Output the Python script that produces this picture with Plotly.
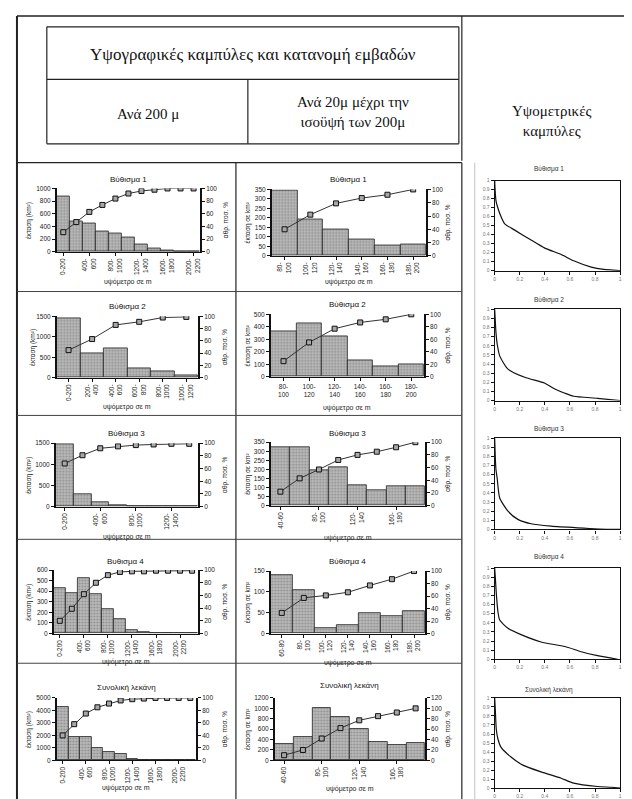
import plotly.graph_objects as go

W, H = 632, 799

# ---------------- DATA ----------------
# Left column: per 200 m
L1_cats = ["0-200", "200-400", "400-600", "600-800", "800-1000", "1000-1200", "1200-1400",
           "1400-1600", "1600-1800", "1800-2000", "2000-2200"]
L1_area = [880, 480, 450, 330, 290, 230, 120, 60, 30, 4, 4]
L1_cum = [31, 47, 63, 74, 84, 92, 96, 98, 100, 100, 100]

L2_cats = ["0-200", "200-400", "400-600", "600-800", "800-1000", "1000-1200"]
L2_area = [1450, 600, 720, 230, 150, 70]
L2_cum = [45, 63, 86, 91, 98, 99]

L3_cats = ["0-200", "200-400", "400-600", "600-800", "800-1000", "1000-1200", "1200-1400", "1400-1600"]
L3_area = [1480, 300, 110, 40, 15, 8, 5, 5]
L3_cum = [68, 81, 92, 95, 97, 98, 99, 99]

L4_cats = ["0-200", "200-400", "400-600", "600-800", "800-1000", "1000-1200", "1200-1400",
           "1400-1600", "1600-1800", "1800-2000", "2000-2200", "2200-2400"]
L4_area = [430, 380, 520, 370, 230, 140, 30, 12, 3, 2, 2, 2]
L4_cum = [20, 39, 62, 80, 92, 97, 98, 98, 99, 99, 99, 99]

L5_cats = ["0-200", "200-400", "400-600", "600-800", "800-1000", "1000-1200", "1200-1400",
           "1400-1600", "1600-1800", "1800-2000", "2000-2200", "2200-2400"]
L5_area = [4250, 1850, 1850, 1000, 700, 480, 150, 50, 20, 10, 10, 10]
L5_cum = [40, 58, 75, 85, 91, 96, 98, 99, 100, 100, 100, 100]

# Middle column: per 20 m up to 200 m
M1_cats = ["80-100", "100-120", "120-140", "140-160", "160-180", "180-200"]
M1_area = [345, 190, 140, 85, 55, 60]
M1_cum = [40, 62, 79, 87, 92, 100]

M2_cats = ["80-100", "100-120", "120-140", "140-160", "160-180", "180-200"]
M2_area = [360, 430, 320, 135, 80, 100]
M2_cum = [25, 55, 77, 87, 92, 100]

M3_cats = ["40-60", "60-80", "80-100", "100-120", "120-140", "140-160", "160-180", "180-200"]
M3_area = [320, 325, 195, 210, 115, 85, 105, 110]
M3_cum = [22, 43, 57, 72, 80, 85, 92, 100]

M4_cats = ["60-80", "80-100", "100-120", "120-140", "140-160", "160-180", "180-200"]
M4_area = [140, 105, 12, 20, 48, 42, 53]
M4_cum = [33, 57, 61, 66, 77, 87, 100]

M5_cats = ["40-60", "60-80", "80-100", "100-120", "120-140", "140-160", "160-180", "180-200"]
M5_area = [320, 460, 1010, 830, 600, 350, 290, 330]
M5_cum = [10, 20, 42, 62, 77, 85, 92, 100]

# Right column: hypsometric curves (relative area, relative height)
H1_x = [0, 0.004, 0.01, 0.02, 0.05, 0.08, 0.16, 0.29, 0.40, 0.53, 0.63, 0.77, 0.87, 0.95, 1.0]
H1_y = [1.0, 0.88, 0.78, 0.72, 0.60, 0.52, 0.45, 0.34, 0.25, 0.18, 0.11, 0.04, 0.015, 0.007, 0.0]
H2_x = [0, 0.005, 0.01, 0.02, 0.04, 0.106, 0.24, 0.40, 0.48, 0.56, 0.63, 0.82, 1.0]
H2_y = [1.0, 0.87, 0.75, 0.62, 0.49, 0.345, 0.255, 0.19, 0.127, 0.08, 0.047, 0.025, 0.0]
H3_x = [0, 0.004, 0.01, 0.02, 0.04, 0.106, 0.185, 0.29, 0.45, 0.66, 0.93, 1.0]
H3_y = [1.0, 0.82, 0.66, 0.56, 0.345, 0.20, 0.11, 0.062, 0.036, 0.018, 0.0, 0.0]
H4_x = [0, 0.005, 0.013, 0.026, 0.04, 0.106, 0.21, 0.37, 0.56, 0.69, 0.82, 0.98]
H4_y = [1.0, 0.90, 0.72, 0.52, 0.43, 0.34, 0.27, 0.19, 0.14, 0.083, 0.04, 0.0]
H5_x = [0, 0.005, 0.013, 0.026, 0.05, 0.13, 0.225, 0.37, 0.53, 0.63, 0.82, 0.93, 1.0]
H5_y = [1.0, 0.87, 0.65, 0.545, 0.455, 0.345, 0.255, 0.18, 0.11, 0.055, 0.018, 0.01, 0.0]

# ---------------- HELPERS ----------------
def px(x):
    return x / W

def py(y):
    return 1 - y / H

SANS = "Liberation Sans, Arial, sans-serif"
SERIF = "Liberation Serif, Times New Roman, serif"

fig = go.Figure()
layout = {}
annotations = []
shapes = []
ax_counter = [0]


def note(text, x, y, size, family=SANS, color="#222", angle=0):
    annotations.append(dict(text=text, x=px(x), y=py(y), xref="paper", yref="paper",
                            xanchor="center", yanchor="middle", showarrow=False, textangle=angle,
                            font=dict(family=family, size=size, color=color)))


def fmt_label(c, split):
    if split and c.count("-") == 1:
        a, b = c.split("-")
        return a + "-<br>" + b
    return c


def dual(box, title, title_y, cats, area, cum, yl_range, yl_dtick, yr_range, yr_dtick,
         ytitle, ytitle_x, rtitle_x, xtitle_y, step=1, angle=-90, split_first=False):
    x0, x1, y0, y1 = box
    ax_counter[0] += 1
    xi = ax_counter[0]
    yl = 2 * xi - 1
    yr = 2 * xi
    n = len(cats)
    xs = list(range(n))
    tv = xs[::step]
    tt = [fmt_label(cats[i], (i > 0 or split_first)) for i in tv]
    xname = "x" if xi == 1 else "x%d" % xi
    ylname = "y" if yl == 1 else "y%d" % yl
    yrname = "y%d" % yr
    fig.add_trace(go.Bar(x=xs, y=area, xaxis=xname, yaxis=ylname, width=1.0,
                         marker=dict(color="#b4b4b4", line=dict(color="#222", width=0.8),
                                     pattern=dict(shape=".", fgcolor="#5e5e5e", bgcolor="#bcbcbc",
                                                  size=3, solidity=0.4)),
                         showlegend=False))
    fig.add_trace(go.Scatter(x=xs, y=cum, xaxis=xname, yaxis=yrname, mode="lines+markers",
                             line=dict(color="#333", width=1),
                             marker=dict(symbol="square", size=5, color="#a8a8a8",
                                         line=dict(color="#111", width=1)),
                             showlegend=False))
    tick_font = dict(family=SANS, size=6.5, color="#222")
    layout["xaxis" if xi == 1 else "xaxis%d" % xi] = dict(
        domain=[px(x0), px(x1)], anchor=ylname, range=[-0.5, n - 0.5],
        tickmode="array", tickvals=tv, ticktext=tt, tickangle=angle,
        showline=True, linecolor="#111", linewidth=1, ticks="outside", ticklen=3,
        tickcolor="#111", showgrid=False, zeroline=False, tickfont=tick_font, fixedrange=True)
    layout["yaxis" if yl == 1 else "yaxis%d" % yl] = dict(
        domain=[py(y1), py(y0)], anchor=xname, range=yl_range, dtick=yl_dtick, tick0=0,
        showline=True, linecolor="#111", linewidth=1.5, ticks="outside", ticklen=3,
        tickcolor="#111", showgrid=False, zeroline=False, tickfont=tick_font, fixedrange=True)
    layout["yaxis%d" % yr] = dict(
        domain=[py(y1), py(y0)], anchor=xname, overlaying=ylname, side="right",
        range=yr_range, dtick=yr_dtick, tick0=0,
        showline=True, linecolor="#111", linewidth=1.5, ticks="outside", ticklen=3,
        tickcolor="#111", showgrid=False, zeroline=False, tickfont=tick_font, fixedrange=True)
    cx = (x0 + x1) / 2
    note(title, cx, title_y, 8, color="#111")
    note("υψόμετρο σε m", cx, xtitle_y, 7)
    note(ytitle, ytitle_x, (y0 + y1) / 2, 6.5, angle=-90)
    note("αθρ. ποσ. %", rtitle_x, (y0 + y1) / 2, 6.5, angle=-90)


def hyps(box, title, title_y, hx, hy):
    x0, x1, y0, y1 = box
    ax_counter[0] += 1
    xi = ax_counter[0]
    yi = 20 + (xi - 10)
    xname = "x%d" % xi
    yname = "y%d" % yi
    fig.add_trace(go.Scatter(x=hx, y=hy, xaxis=xname, yaxis=yname, mode="lines",
                             line=dict(color="#111", width=1.2, shape="spline", smoothing=0.6),
                             showlegend=False))
    tf = dict(family=SANS, size=5, color="#777")
    layout["xaxis%d" % xi] = dict(
        domain=[px(x0), px(x1)], anchor=yname, range=[0, 1.0], dtick=0.2, tick0=0,
        showline=True, mirror=True, linecolor="#111", linewidth=1.2, ticks="outside", ticklen=3,
        tickcolor="#111", showgrid=False, zeroline=False, tickfont=tf, fixedrange=True)
    layout["yaxis%d" % yi] = dict(
        domain=[py(y1), py(y0)], anchor=xname, range=[0, 1.0], dtick=0.1, tick0=0,
        showline=True, mirror=True, linecolor="#111", linewidth=1.2, ticks="outside", ticklen=3,
        tickcolor="#111", showgrid=False, zeroline=False, tickfont=tf, fixedrange=True)
    note(title, (x0 + x1) / 2 - 8, title_y, 6.5, color="#333")


# Left column
LYT = "έκταση (km²)"
MYT = "έκταση σε km²"
dual((48, 192, 178, 242), "Βύθισμα 1", 169, L1_cats, L1_area, L1_cum, [0, 1000], 200, [0, 100], 20,
     LYT, 20, 218, 272, step=2)
dual((48, 190, 307, 369), "Βύθισμα 2", 297, L2_cats, L2_area, L2_cum, [0, 1500], 500, [0, 100], 20,
     LYT, 24, 217, 398, step=1)
dual((47, 190, 435, 499), "Βύθισμα 3", 425, L3_cats, L3_area, L3_cum, [0, 1500], 500, [0, 100], 20,
     LYT, 20, 217, 530, step=2)
dual((45, 190, 563, 627), "Βυθισμα 4", 554, L4_cats, L4_area, L4_cum, [0, 600], 100, [0, 100], 20,
     LYT, 20, 217, 656, step=2)
dual((48, 188, 692, 755), "Συνολική λεκάνη", 681, L5_cats, L5_area, L5_cum, [0, 5000], 1000, [0, 100], 20,
     LYT, 20, 217, 783, step=2)

# Middle column
dual((264, 419, 179, 246), "Βύθισμα 1", 169, M1_cats, M1_area, M1_cum, [0, 350], 50, [0, 100], 20,
     MYT, 240, 441, 272, step=1, split_first=True)
dual((263, 417, 305, 368), "Βύθισμα 2", 295, M2_cats, M2_area, M2_cum, [0, 500], 100, [0, 100], 20,
     MYT, 240, 441, 399, step=1, angle=0, split_first=True)
dual((263, 418, 434, 498), "Βύθισμα 3", 425, M3_cats, M3_area, M3_cum, [0, 350], 50, [0, 100], 20,
     MYT, 240, 441, 531, step=2)
dual((263, 418, 564, 627), "Βύθισμα 4", 554, M4_cats, M4_area, M4_cum, [0, 150], 50, [0, 100], 20,
     MYT, 240, 441, 657, step=1)
dual((267, 418, 692, 755), "Συνολική λεκάνη", 679, M5_cats, M5_area, M5_cum, [0, 1200], 200, [0, 120], 20,
     MYT, 240, 441, 784, step=2)

# Right column
hyps((488, 614, 170, 261), "Βύθισμα 1", 158, H1_x, H1_y)
hyps((488, 614, 300, 392), "Βύθισμα 2", 291, H2_x, H2_y)
hyps((488, 614, 430, 522), "Βύθισμα 3", 421, H3_x, H3_y)
hyps((488, 614, 561, 653), "Βύθισμα 4", 550, H4_x, H4_y)
hyps((488, 614, 692, 783), "Συνολική λεκάνη", 684, H5_x, H5_y)

# Header texts
note("Υψογραφικές καμπύλες και κατανομή εμβαδών", 245, 43, 17, family=SERIF, color="#111")
note("Ανά 200 μ", 140, 103, 15, family=SERIF, color="#111")
note("Ανά 20μ μέχρι την<br>ισοϋψή των 200μ", 346, 101, 15, family=SERIF, color="#111")
note("Υψομετρικές<br>καμπύλες", 545, 110, 15, family=SERIF, color="#111")


def line(xa, ya, xb, yb, w=1, c="#222"):
    shapes.append(dict(type="line", xref="paper", yref="paper", x0=px(xa), y0=py(ya), x1=px(xb), y1=py(yb),
                       line=dict(color=c, width=w)))


# Frame lines
line(8, 4, 628, 4, 1.5)
line(8, 4, 8, 796, 2)
line(628, 4, 628, 796, 2)
line(8, 796, 628, 796, 1.5)
line(455, 4, 455, 150, 1.2)
# header boxes
line(38, 15, 452, 15, 1.2)
line(38, 15, 38, 133, 1.2)
line(452, 15, 452, 133, 1.2)
line(38, 68, 452, 68, 1.2)
line(240, 68, 240, 133, 1.2)
line(38, 133, 452, 133, 1.2)
# grid
line(8, 152, 455, 152, 1.2)
line(228, 152, 228, 796, 1.2)
line(455, 152, 455, 796, 1.2)
line(468, 152, 468, 796, 0.6, "#999")
for yy in [282, 407, 532, 657]:
    line(8, yy, 455, yy, 1.0, "#444")

layout.update(dict(width=W, height=H, margin=dict(l=0, r=0, t=0, b=0),
                   paper_bgcolor="white", plot_bgcolor="white", bargap=0,
                   annotations=annotations, shapes=shapes, showlegend=False))
fig.update_layout(**layout)
fig.write_html("out.html")
